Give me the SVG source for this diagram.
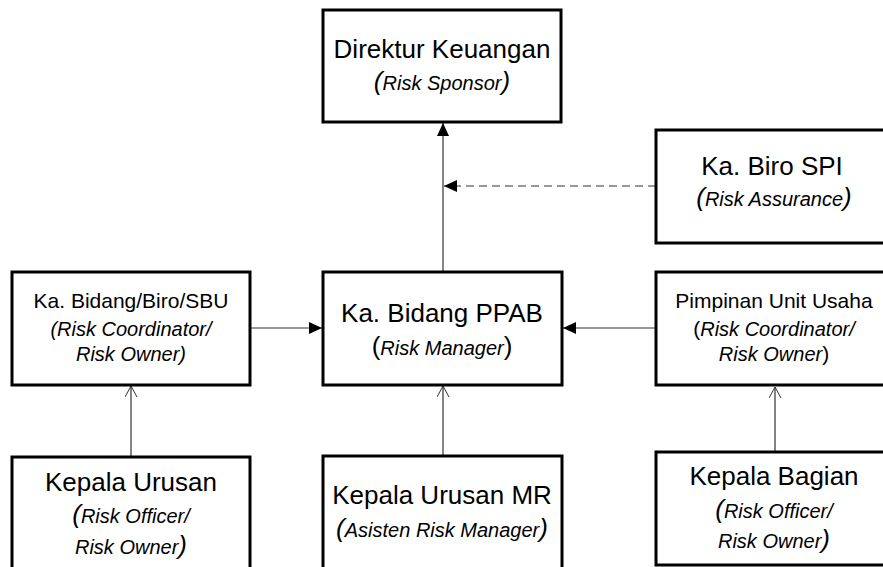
<svg xmlns="http://www.w3.org/2000/svg" width="883" height="567" viewBox="0 0 883 567">
<style>
.box{fill:#fff;stroke:#000;stroke-width:3}
text{font-family:"Liberation Sans",Arial,sans-serif;fill:#000;text-anchor:middle}
.t{font-size:26px}
.s{font-size:21px}
.i{font-style:italic;font-size:20px}
.p{font-size:26px}
.ln{stroke:#333;stroke-width:1.2;fill:none}
.dash{stroke:#777;stroke-width:1.5;stroke-dasharray:8,5;fill:none}
</style>
<defs>
<marker id="fa" markerWidth="14" markerHeight="14" refX="13" refY="6" orient="auto" markerUnits="userSpaceOnUse">
<path d="M0,0 L13,6 L0,12 Z" fill="#000"/>
</marker>
<marker id="oa" markerWidth="14" markerHeight="14" refX="11" refY="6" orient="auto" markerUnits="userSpaceOnUse">
<path d="M0,0 L11,6 L0,12" fill="none" stroke="#333" stroke-width="1"/>
</marker>
</defs>
<g id="connectors">
<line class="ln" x1="443" y1="272" x2="443" y2="123" marker-end="url(#fa)"/>
<line class="dash" x1="656" y1="186" x2="444" y2="186" marker-end="url(#fa)"/>
<line class="ln" x1="250" y1="328" x2="322" y2="328" marker-end="url(#fa)"/>
<line class="ln" x1="656" y1="328" x2="563" y2="328" marker-end="url(#fa)"/>
<line class="ln" x1="131" y1="457" x2="131" y2="386" marker-end="url(#oa)"/>
<line class="ln" x1="443" y1="456" x2="443" y2="386" marker-end="url(#oa)"/>
<line class="ln" x1="775" y1="452" x2="775" y2="387" marker-end="url(#oa)"/>
</g>
<g id="direktur">
<rect class="box" x="323" y="10" width="238" height="112"/>
<text class="t" x="442" y="58">Direktur Keuangan</text>
<text x="442" y="90"><tspan class="p" font-style="italic">(</tspan><tspan class="i">Risk Sponsor</tspan><tspan class="p" font-style="italic">)</tspan></text>
</g>
<g id="spi">
<rect class="box" x="656" y="130" width="240" height="113"/>
<text class="t" x="772" y="175">Ka. Biro SPI</text>
<text x="774" y="206"><tspan class="p" font-style="italic">(</tspan><tspan class="i">Risk Assurance</tspan><tspan class="p" font-style="italic">)</tspan></text>
</g>
<g id="kabidang">
<rect class="box" x="12" y="272" width="238" height="113"/>
<text class="s" x="131" y="308">Ka. Bidang/Biro/SBU</text>
<text class="i" x="131" y="336">(Risk Coordinator/</text>
<text class="i" x="131" y="361">Risk Owner)</text>
</g>
<g id="ppab">
<rect class="box" x="323" y="272" width="239" height="113"/>
<text class="t" x="442" y="322">Ka. Bidang PPAB</text>
<text x="442" y="355"><tspan class="p">(</tspan><tspan class="i">Risk Manager</tspan><tspan class="p">)</tspan></text>
</g>
<g id="pimpinan">
<rect class="box" x="656" y="272" width="240" height="113"/>
<text class="s" x="774" y="308">Pimpinan Unit Usaha</text>
<text x="774" y="336"><tspan class="s">(</tspan><tspan class="i">Risk Coordinator/</tspan></text>
<text x="774" y="361"><tspan class="i">Risk Owner</tspan><tspan class="s">)</tspan></text>
</g>
<g id="kepalaurusan">
<rect class="box" x="12" y="457" width="238" height="120"/>
<text class="t" x="131" y="491">Kepala Urusan</text>
<text x="131" y="523"><tspan class="p" font-style="italic">(</tspan><tspan class="i">Risk Officer/</tspan></text>
<text x="131" y="554"><tspan class="i">Risk Owner</tspan><tspan class="p" font-style="italic">)</tspan></text>
</g>
<g id="kepalaurusanmr">
<rect class="box" x="323" y="456" width="239" height="120"/>
<text class="t" x="442" y="504">Kepala Urusan MR</text>
<text x="442" y="537"><tspan class="p" font-style="italic">(</tspan><tspan class="i">Asisten Risk Manager</tspan><tspan class="p" font-style="italic">)</tspan></text>
</g>
<g id="kepalabagian">
<rect class="box" x="656" y="452" width="240" height="113"/>
<text class="t" x="774" y="485">Kepala Bagian</text>
<text x="774" y="518"><tspan class="p" font-style="italic">(</tspan><tspan class="i">Risk Officer/</tspan></text>
<text x="774" y="548"><tspan class="i">Risk Owner</tspan><tspan class="p" font-style="italic">)</tspan></text>
</g>
</svg>
